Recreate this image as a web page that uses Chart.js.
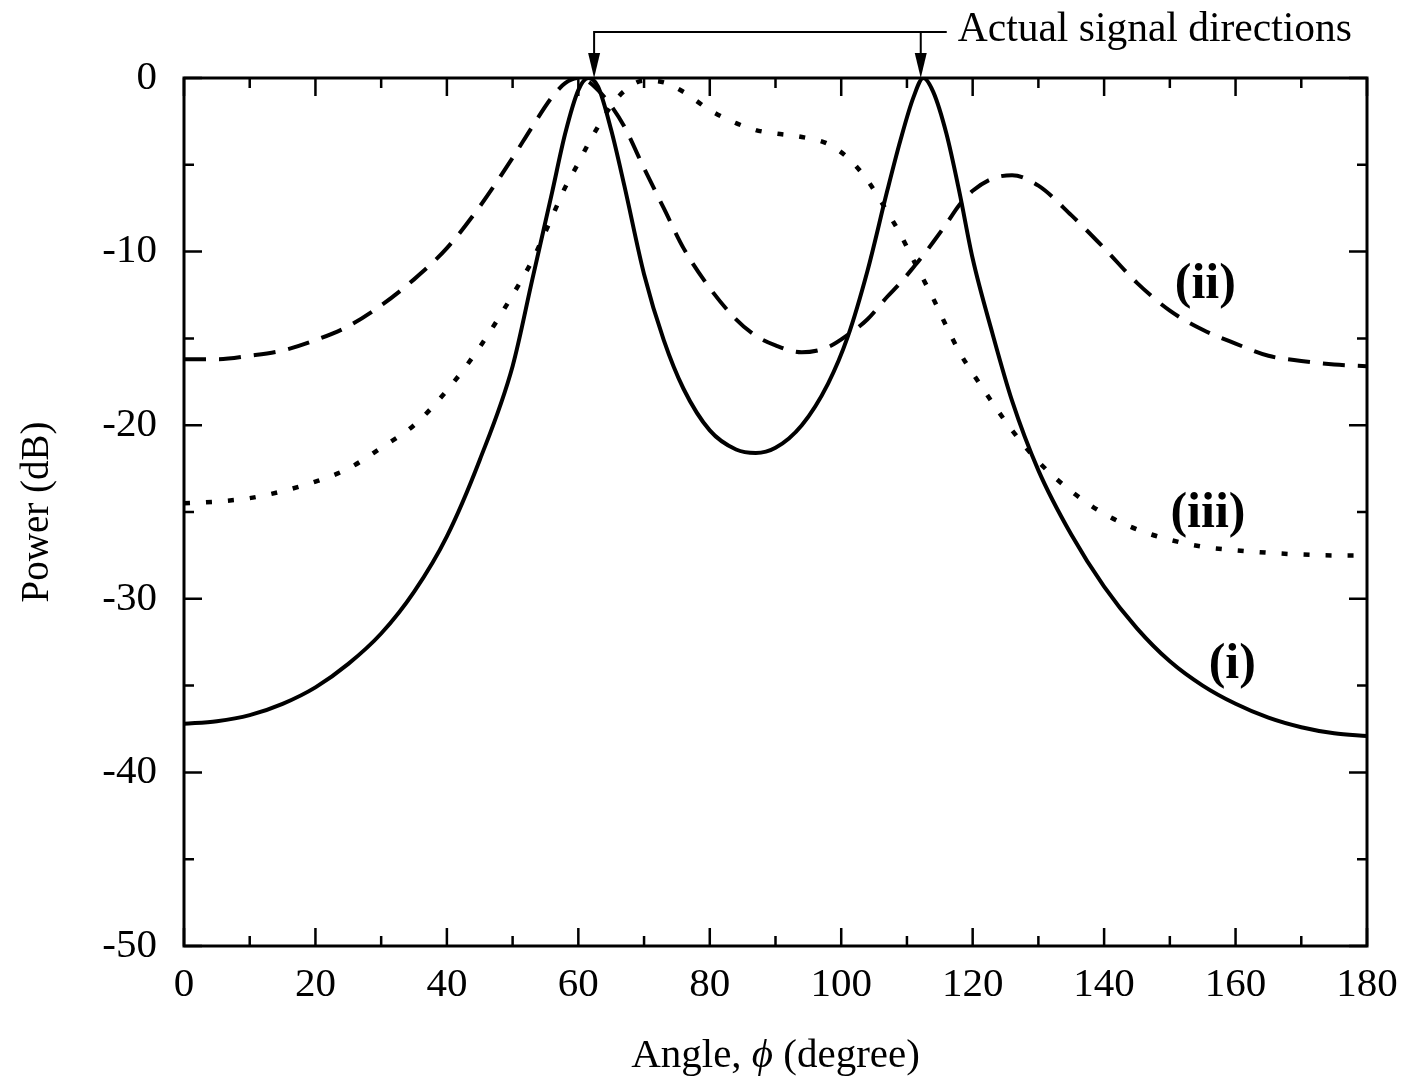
<!DOCTYPE html>
<html>
<head>
<meta charset="utf-8">
<title>Power vs angle</title>
<script src="https://cdn.jsdelivr.net/npm/chart.js@4.4.1/dist/chart.umd.min.js"></script>
<style>
  html, body { margin: 0; padding: 0; background: #fff; }
  canvas { display: block; }
</style>
</head>
<body>
<canvas id="spectrumChart" width="1405" height="1084"></canvas>
<script>
// angle grid (degree), denser around the peaks
var angles = [0, 5, 10, 15, 20, 25, 30, 35, 40, 45, 50, 53, 56, 58, 60, 61.5, 63, 65, 67, 70,
              73, 76, 80, 84, 87, 90, 94, 98, 101, 104, 107, 109, 111, 112.5, 114, 116, 118, 120,
              123, 126, 130, 135, 140, 145, 150, 155, 160, 165, 170, 175, 180];

// (i) solid
var powerI = [-37.2, -37.05, -36.7, -36.05, -35.1, -33.75, -32.0, -29.6, -26.4, -22.0, -16.6, -11.6, -6.6, -3.2, -0.7, 0, -0.5, -3.0, -6.2, -11.3,
              -15.1, -17.9, -20.3, -21.4, -21.6, -21.3, -20.0, -17.6, -14.9, -11.1, -6.5, -3.6, -1.1, 0, -0.8, -3.2, -6.6, -10.4,
              -14.7, -18.6, -22.6, -26.3, -29.3, -31.7, -33.6, -35.0, -36.05, -36.85, -37.4, -37.75, -37.9];

// (ii) dashed
var powerII = [-16.2, -16.2, -16.0, -15.7, -15.1, -14.3, -13.1, -11.6, -9.8, -7.4, -4.6, -2.8, -1.1, -0.3, 0, -0.2, -0.7, -1.6, -2.8, -5.2,
               -7.5, -9.8, -12.1, -13.9, -14.85, -15.4, -15.8, -15.5, -14.8, -13.9, -12.6, -11.8, -10.9, -10.2, -9.45, -8.4, -7.3, -6.5,
               -5.8, -5.6, -6.2, -7.9, -9.8, -11.8, -13.4, -14.5, -15.3, -16.0, -16.3, -16.5, -16.6];

// (iii) dotted
var powerIII = [-24.5, -24.4, -24.2, -23.8, -23.25, -22.5, -21.3, -20.0, -18.0, -15.5, -12.5, -10.5, -8.0, -6.3, -4.9, -3.8, -2.8, -1.6, -0.75, -0.15,
                -0.25, -0.8, -1.85, -2.6, -3.0, -3.2, -3.4, -3.8, -4.6, -5.9, -7.7, -9.0, -10.5, -11.6, -12.7, -14.3, -15.8, -17.0,
                -18.7, -20.3, -22.1, -23.8, -25.1, -26.0, -26.6, -27.0, -27.2, -27.35, -27.45, -27.5, -27.5];

var signalDirections = [62.4, 112.1];
var xTickValues = [0, 20, 40, 60, 80, 100, 120, 140, 160, 180];
var yTickValues = [0, -10, -20, -30, -40, -50];
var curveNames = ['(i)', '(ii)', '(iii)'];

var serif = '"Liberation Serif", "Times New Roman", serif';

function toPoints(ys) {
    return angles.map(function (a, i) { return { x: a, y: ys[i] }; });
}

// frame, inward ticks, arrows and text labels
var decorations = {
    id: 'decorations',
    afterDraw: function (chart) {
        var ctx = chart.ctx;
        var area = chart.chartArea;
        var xs = chart.scales.x, ys = chart.scales.y;
        ctx.save();
        ctx.strokeStyle = '#000';
        ctx.fillStyle = '#000';

        ctx.lineWidth = 3;
        ctx.strokeRect(area.left, area.top, area.right - area.left, area.bottom - area.top);

        // ticks on all four sides, minor ones halfway between the majors
        ctx.lineWidth = 2.5;
        ctx.beginPath();
        xTickValues.forEach(function (v, i) {
            var px = xs.getPixelForValue(v);
            ctx.moveTo(px, area.bottom); ctx.lineTo(px, area.bottom - 18);
            ctx.moveTo(px, area.top); ctx.lineTo(px, area.top + 18);
            if (i > 0) {
                var pm = xs.getPixelForValue((v + xTickValues[i - 1]) / 2);
                ctx.moveTo(pm, area.bottom); ctx.lineTo(pm, area.bottom - 10);
                ctx.moveTo(pm, area.top); ctx.lineTo(pm, area.top + 10);
            }
        });
        yTickValues.forEach(function (v, i) {
            var py = ys.getPixelForValue(v);
            ctx.moveTo(area.left, py); ctx.lineTo(area.left + 18, py);
            ctx.moveTo(area.right, py); ctx.lineTo(area.right - 18, py);
            if (i > 0) {
                var pm = ys.getPixelForValue((v + yTickValues[i - 1]) / 2);
                ctx.moveTo(area.left, pm); ctx.lineTo(area.left + 10, pm);
                ctx.moveTo(area.right, pm); ctx.lineTo(area.right - 10, pm);
            }
        });
        ctx.stroke();

        // "Actual signal directions" bracket with arrows
        var lineY = area.top - 46;
        var x1 = xs.getPixelForValue(signalDirections[0]);
        var x2 = xs.getPixelForValue(signalDirections[1]);
        ctx.lineWidth = 2;
        ctx.beginPath();
        ctx.moveTo(x1, area.top - 20); ctx.lineTo(x1, lineY); ctx.lineTo(x2 + 26, lineY);
        ctx.moveTo(x2, lineY); ctx.lineTo(x2, area.top - 20);
        ctx.stroke();
        [x1, x2].forEach(function (px) {
            ctx.beginPath();
            ctx.moveTo(px, area.top);
            ctx.lineTo(px - 6, area.top - 25);
            ctx.lineTo(px + 6, area.top - 25);
            ctx.closePath();
            ctx.fill();
        });
        ctx.font = '41.5px ' + serif;
        ctx.textAlign = 'left';
        ctx.textBaseline = 'alphabetic';
        ctx.fillText('Actual signal directions', x2 + 37, 41);

        // curve labels
        var labelSpots = [[159.5, -33.8], [155.4, -11.9], [155.8, -25.1]];
        ctx.font = 'bold 50px ' + serif;
        ctx.textAlign = 'center';
        ctx.textBaseline = 'middle';
        curveNames.forEach(function (name, i) {
            ctx.fillText(name, xs.getPixelForValue(labelSpots[i][0]), ys.getPixelForValue(labelSpots[i][1]));
        });

        // x axis title with italic phi
        var parts = [['Angle, ', '41px '], ['\u03d5', 'italic 41px '], [' (degree)', '41px ']];
        var total = 0;
        parts.forEach(function (p) { ctx.font = p[1] + serif; p.push(ctx.measureText(p[0]).width); total += p[2]; });
        var tx = (area.left + area.right) / 2 - total / 2;
        ctx.textAlign = 'left';
        ctx.textBaseline = 'middle';
        parts.forEach(function (p) {
            ctx.font = p[1] + serif;
            ctx.fillText(p[0], tx, 1056);
            tx += p[2];
        });
        ctx.restore();
    }
};

var ctx = document.getElementById('spectrumChart').getContext('2d');
var spectrumChart = new Chart(ctx, {
    type: 'line',
    data: {
        datasets: [{
            label: curveNames[0],
            data: toPoints(powerI),
            borderColor: '#000',
            borderWidth: 4
        }, {
            label: curveNames[1],
            data: toPoints(powerII),
            borderColor: '#000',
            borderWidth: 4,
            borderDash: [22, 13]
        }, {
            label: curveNames[2],
            data: toPoints(powerIII),
            borderColor: '#000',
            borderWidth: 4.5,
            borderDash: [6, 16]
        }]
    },
    options: {
        responsive: false,
        animation: false,
        devicePixelRatio: 1,
        layout: { padding: { top: 78, right: 38, left: 0, bottom: 0 } },
        elements: {
            point: { radius: 0 },
            line: { cubicInterpolationMode: 'monotone', fill: false, borderCapStyle: 'butt' }
        },
        scales: {
            x: {
                type: 'linear',
                min: 0,
                max: 180,
                grid: { display: false },
                border: { display: false },
                ticks: { color: '#000', font: { family: serif, size: 41 }, padding: 7, maxRotation: 0 },
                afterBuildTicks: function (scale) {
                    scale.ticks = xTickValues.map(function (v) { return { value: v }; });
                },
                afterFit: function (scale) { scale.height = 138; }
            },
            y: {
                type: 'linear',
                min: -50,
                max: 0,
                grid: { display: false },
                border: { display: false },
                ticks: { color: '#000', font: { family: serif, size: 41 }, padding: 19 },
                afterBuildTicks: function (scale) {
                    scale.ticks = yTickValues.map(function (v) { return { value: v }; });
                },
                afterFit: function (scale) { scale.width = 184; },
                title: {
                    display: true,
                    text: 'Power (dB)',
                    color: '#000',
                    font: { family: serif, size: 39 },
                    padding: { top: 14, bottom: 0 }
                }
            }
        },
        plugins: {
            legend: { display: false },
            tooltip: { enabled: false }
        }
    },
    plugins: [decorations]
});
</script>
</body>
</html>
